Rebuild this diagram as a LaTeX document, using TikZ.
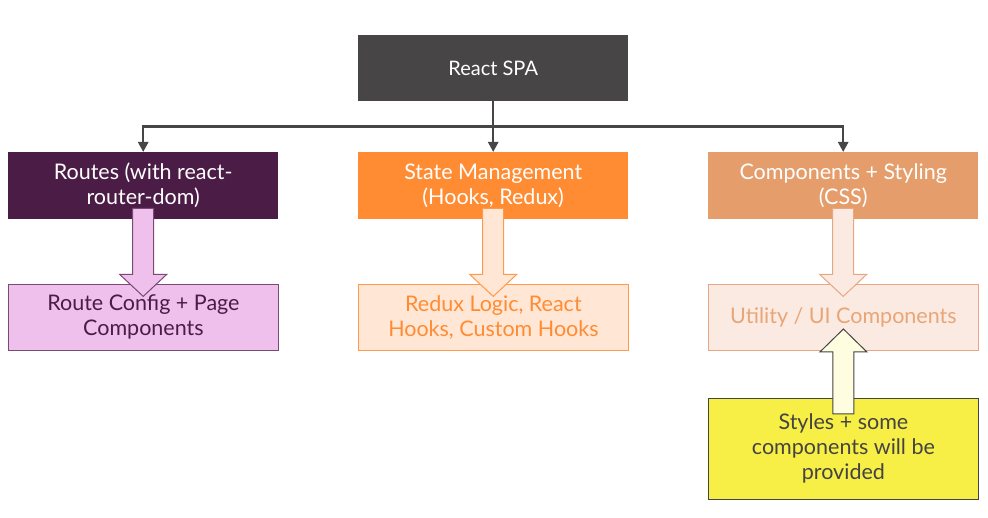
\documentclass[tikz,border=0pt]{standalone}
\usepackage{fontspec}
\setmainfont{Lato}
\usetikzlibrary{calc,arrows.meta}
\definecolor{spa}{HTML}{474546}
\definecolor{routes}{HTML}{4B1C46}
\definecolor{state}{HTML}{FF8C33}
\definecolor{comp}{HTML}{E59E6B}
\definecolor{rcfill}{HTML}{EFC0EC}
\definecolor{rcdraw}{HTML}{7A4A76}
\definecolor{rdfill}{HTML}{FFE6D5}
\definecolor{rddraw}{HTML}{FF9A4D}
\definecolor{utfill}{HTML}{FBEAE2}
\definecolor{utdraw}{HTML}{E9A682}
\definecolor{uttext}{HTML}{E8A677}
\definecolor{yel}{HTML}{F7EF45}
\definecolor{upfill}{HTML}{FFFDE0}
\definecolor{txtdark}{HTML}{444444}
\tikzset{
  box/.style={anchor=north west, minimum width=270pt, minimum height=67pt,
    align=center, inner sep=0pt, font=\fontsize{21.5}{25}\selectfont},
  conn/.style={draw=spa, line width=2.4pt, -{Triangle[length=10pt,width=10pt]}},
  blockarrow/.style={line width=1pt, line join=miter},
}
\begin{document}
\begin{tikzpicture}[x=1pt,y=-1pt]
\useasboundingbox (0,0) rectangle (988,518);
\node[box, fill=spa, text=white, minimum height=66pt, font=\fontsize{20}{24}\selectfont] (spa) at (358,35) {React SPA};
\node[box, fill=routes, text=white] (routes) at (8,152) {Routes (with react-\\router-dom)};
\node[box, fill=state, text=white] (state) at (358,152) {State Management\\(Hooks, Redux)};
\node[box, fill=comp, text=white] (comp) at (708,152) {Components + Styling\\(CSS)};
\node[box, fill=rcfill, draw=rcdraw, line width=0.8pt, text=routes, minimum height=66pt] (rc) at (8,284) {Route Config + Page\\Components};
\node[box, fill=rdfill, draw=rddraw, line width=0.8pt, text=state, minimum height=66pt] (rd) at (358,284) {Redux Logic, React\\Hooks, Custom Hooks};
\node[box, fill=utfill, draw=utdraw, line width=0.8pt, text=uttext, minimum height=66pt] (ut) at (708,284) {Utility / UI Components};
\node[box, fill=yel, draw=txtdark, line width=0.8pt, text=txtdark, minimum height=101pt] (sty) at (708,398) {Styles + some\\components will be\\provided};
% tree connectors
\coordinate (bus) at ($(spa.south)+(0,25)$);
\draw[draw=spa, line width=2.4pt] (spa.south) -- (bus);
\draw[draw=spa, line width=2.4pt] (bus -| routes.north) ++(-1.2,0) -- ($(bus -| comp.north)+(1.2,0)$);
\draw[conn] (bus -| state.north) -- (state.north);
\draw[conn] ($(bus -| routes.north)$) -- (routes.north);
\draw[conn] ($(bus -| comp.north)$) -- (comp.north);
% block arrows down
\foreach \src/\fc/\dc in {routes/rcfill/rcdraw, state/rdfill/rddraw, comp/utfill/utdraw}{
  \draw[blockarrow, fill=\fc, draw=\dc]
    ($(\src.south)+(-10.5,-11)$) -- ($(\src.south)+(10.5,-11)$) --
    ($(\src.south)+(10.5,55)$) -- ($(\src.south)+(23.5,55)$) --
    ($(\src.south)+(0,77)$) -- ($(\src.south)+(-23.5,55)$) --
    ($(\src.south)+(-10.5,55)$) -- cycle;
}
% block arrow up
\draw[blockarrow, fill=upfill, draw=txtdark]
  ($(sty.north)+(-10.5,16)$) -- ($(sty.north)+(10.5,16)$) --
  ($(sty.north)+(10.5,-46)$) -- ($(sty.north)+(23.5,-46)$) --
  ($(sty.north)+(0,-69)$) -- ($(sty.north)+(-23.5,-46)$) --
  ($(sty.north)+(-10.5,-46)$) -- cycle;
\end{tikzpicture}
\end{document}
